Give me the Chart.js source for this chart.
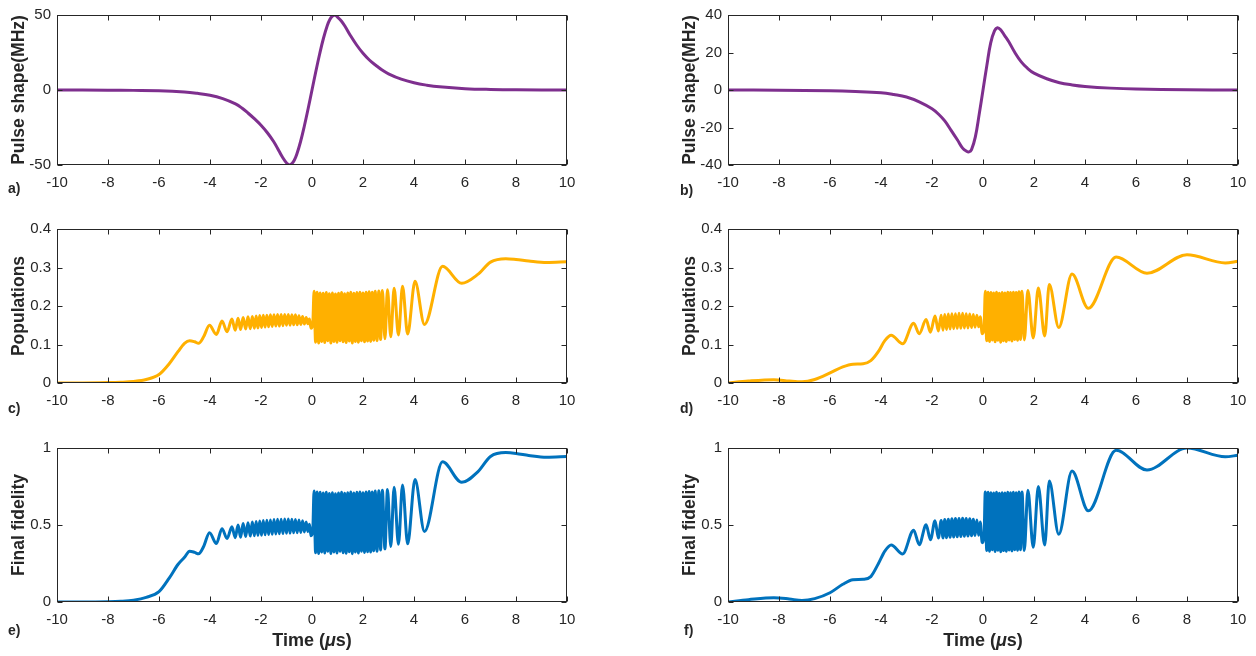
<!DOCTYPE html>
<html>
<head>
<meta charset="utf-8">
<script src="https://cdn.jsdelivr.net/npm/chart.js@4.4.1/dist/chart.umd.min.js"></script>
<style>
  html, body { margin: 0; padding: 0; background: #fff; }
  body { width: 1256px; height: 656px; position: relative; overflow: hidden;
         font-family: "Liberation Sans", Arial, Helvetica, sans-serif; }
  .panel { position: absolute; }
  .tag { position: absolute; font-weight: bold; font-size: 14px; color: #262626; line-height: 16px; }
  .xlabel { position: absolute; font-weight: bold; font-size: 18px; color: #262626;
            transform: translateX(-50%); white-space: nowrap; line-height: 20px; }
</style>
</head>
<body>
<div class="panel" style="left:0;top:0;width:640px;height:200px"><canvas id="chartA"></canvas></div>
<div class="panel" style="left:671px;top:0;width:585px;height:200px"><canvas id="chartB"></canvas></div>
<div class="panel" style="left:0;top:200px;width:640px;height:220px"><canvas id="chartC"></canvas></div>
<div class="panel" style="left:671px;top:200px;width:585px;height:220px"><canvas id="chartD"></canvas></div>
<div class="panel" style="left:0;top:420px;width:640px;height:236px"><canvas id="chartE"></canvas></div>
<div class="panel" style="left:671px;top:420px;width:585px;height:236px"><canvas id="chartF"></canvas></div>

<div class="tag" style="left:8px;top:180px">a)</div>
<div class="tag" style="left:680px;top:182px">b)</div>
<div class="tag" style="left:8px;top:400px">c)</div>
<div class="tag" style="left:680px;top:400px">d)</div>
<div class="tag" style="left:8px;top:622px">e)</div>
<div class="tag" style="left:684px;top:622px">f)</div>
<div class="xlabel" style="left:312px;top:630px">Time (<i>μ</i>s)</div>
<div class="xlabel" style="left:983px;top:630px">Time (<i>μ</i>s)</div>

<script>
// pulse shapes (MHz)
const tA = [-10, -8, -7, -6, -5, -4.5, -4, -3.5, -3, -2.75, -2.5, -2.25, -2, -1.75, -1.5, -1.3, -1.15, -1.0, -0.9, -0.8, -0.7, -0.6, -0.45, -0.3, -0.15,
            0, 0.15, 0.3, 0.45, 0.6, 0.7, 0.8, 0.9, 1.0, 1.15, 1.3, 1.5, 1.75, 2, 2.25, 2.5, 2.75, 3, 3.5, 4, 4.5, 5, 6, 7, 8, 10];
const pulseA = [0, -0.1, -0.25, -0.5, -1.3, -2.2, -3.5, -5.8, -9.3, -12, -15.5, -19.3, -23.5, -28.5, -34.5, -40.5, -45, -48.6, -50, -49.3, -47, -43, -34.5, -24, -12.3,
                0, 12.3, 24, 34.5, 43, 47, 49.3, 50, 48.6, 46, 42.3, 36.5, 30, 24.5, 20, 16.5, 13.3, 10.8, 7.2, 4.8, 3.2, 2.1, 0.9, 0.35, 0.1, 0];

const tB = [-10, -8, -6, -5, -4, -3.5, -3, -2.5, -2, -1.75, -1.5, -1.25, -1, -0.8, -0.65, -0.55, -0.45, -0.3, -0.15,
            0, 0.15, 0.3, 0.45, 0.57, 0.7, 0.85, 1, 1.25, 1.5, 1.75, 2, 2.5, 3, 3.5, 4, 5, 6, 8, 10];
const pulseB = [0, -0.1, -0.4, -0.8, -1.5, -2.4, -3.7, -6.3, -10, -12.8, -16.5, -21.5, -26.7, -31, -32.6, -33, -31.8, -25, -13,
                0, 13, 25, 31.5, 33.2, 32, 29, 26, 20, 15, 11.5, 9, 6, 3.9, 2.7, 1.9, 1.0, 0.5, 0.1, 0];

// left column, c) and e)
const tCE = [
  -10, -9, -8, -7.5, -7, -6.5, -6, -5.6, -5.25, -5, -4.8, -4.6, -4.45, -4.25, -4.02, -3.75, -3.53, -3.33, -3.14, -3.01,
  -2.9, -2.8, -2.7, -2.6, -2.51, -2.42, -2.34, -2.26, -2.19, -2.12,
  -2.05, -1.98, -1.91, -1.84, -1.77, -1.70, -1.63, -1.56, -1.49, -1.42,
  -1.35, -1.28, -1.21, -1.14, -1.07, -1.00, -0.93, -0.86, -0.79, -0.72,
  -0.65, -0.58, -0.51, -0.44, -0.37, -0.30, -0.23, -0.16, -0.10, -0.04, 0.03,
  0.08, 0.14, 0.20, 0.26, 0.32, 0.38, 0.44, 0.50, 0.56, 0.62,
  0.68, 0.74, 0.80, 0.86, 0.92, 0.98, 1.04, 1.10, 1.16, 1.22,
  1.28, 1.34, 1.40, 1.46, 1.52, 1.58, 1.64, 1.70, 1.76, 1.82,
  1.88, 1.94, 2.00, 2.06, 2.12, 2.18, 2.24, 2.30, 2.36, 2.42,
  2.48, 2.55, 2.62,
  2.69, 2.76, 2.86, 2.96, 3.09, 3.22, 3.39, 3.55, 3.75, 4.04,
  4.41, 5.12, 5.87, 6.5, 7.0, 7.6, 8.0, 8.5, 9.2, 10
];
const popC = [
  0, 0, 0.001, 0.002, 0.004, 0.009, 0.022, 0.05, 0.082, 0.103, 0.11, 0.107, 0.103, 0.12, 0.15, 0.126, 0.161, 0.133, 0.166, 0.137,
  0.168, 0.139, 0.170, 0.140, 0.172, 0.141, 0.173, 0.142, 0.174, 0.143,
  0.175, 0.144, 0.176, 0.145, 0.176, 0.146, 0.177, 0.147, 0.177, 0.148,
  0.178, 0.148, 0.178, 0.149, 0.178, 0.150, 0.178, 0.150, 0.177, 0.151,
  0.177, 0.151, 0.175, 0.152, 0.173, 0.153, 0.170, 0.154, 0.166, 0.142, 0.152,
  0.238, 0.106, 0.236, 0.104, 0.234, 0.108, 0.233, 0.105, 0.235, 0.110,
  0.232, 0.104, 0.234, 0.108, 0.231, 0.106, 0.233, 0.110, 0.235, 0.107,
  0.232, 0.105, 0.234, 0.109, 0.236, 0.104, 0.233, 0.108, 0.235, 0.106,
  0.236, 0.110, 0.234, 0.107, 0.236, 0.109, 0.237, 0.108, 0.236, 0.111,
  0.238, 0.110, 0.239,
  0.113, 0.240, 0.115, 0.242, 0.120, 0.246, 0.125, 0.251, 0.127, 0.264,
  0.152, 0.303, 0.259, 0.282, 0.314, 0.323, 0.321, 0.317, 0.313, 0.315
];
const fidE = [
  0, 0, 0.002, 0.005, 0.012, 0.03, 0.067, 0.155, 0.245, 0.29, 0.33, 0.322, 0.313, 0.36, 0.45, 0.38, 0.476, 0.412, 0.488, 0.418,
  0.50, 0.42, 0.51, 0.425, 0.515, 0.428, 0.52, 0.43, 0.523, 0.432,
  0.526, 0.434, 0.529, 0.436, 0.531, 0.438, 0.533, 0.44, 0.535, 0.441,
  0.537, 0.443, 0.538, 0.444, 0.539, 0.446, 0.539, 0.447, 0.538, 0.449,
  0.536, 0.45, 0.532, 0.452, 0.527, 0.455, 0.52, 0.458, 0.505, 0.43, 0.46,
  0.72, 0.32, 0.715, 0.315, 0.712, 0.325, 0.708, 0.318, 0.713, 0.33,
  0.705, 0.315, 0.71, 0.325, 0.703, 0.318, 0.708, 0.33, 0.712, 0.32,
  0.706, 0.316, 0.71, 0.327, 0.714, 0.314, 0.708, 0.324, 0.712, 0.318,
  0.714, 0.33, 0.71, 0.322, 0.715, 0.326, 0.717, 0.324, 0.715, 0.332,
  0.72, 0.33, 0.722,
  0.338, 0.725, 0.345, 0.73, 0.36, 0.745, 0.375, 0.76, 0.378, 0.795,
  0.458, 0.91, 0.777, 0.845, 0.945, 0.97, 0.965, 0.952, 0.94, 0.945
];

// right column, d) and f)
const tDF = [
  -10, -9.2, -8.2, -7.6, -7.1, -6.6, -6, -5.5, -5.1, -4.7, -4.4, -4.1, -3.85, -3.6, -3.15, -2.72, -2.5, -2.23, -2.06, -1.88, -1.75,
  -1.64, -1.57, -1.50, -1.43, -1.36, -1.29, -1.22, -1.15, -1.08, -1.01,
  -0.94, -0.87, -0.80, -0.73, -0.66, -0.59, -0.52, -0.45, -0.38, -0.31,
  -0.24, -0.17, -0.11, -0.03, 0.04,
  0.09, 0.145, 0.20, 0.255, 0.31, 0.365, 0.42, 0.475, 0.53, 0.585,
  0.64, 0.695, 0.75, 0.805, 0.86, 0.915, 0.97, 1.025, 1.08, 1.135,
  1.19, 1.245, 1.30, 1.355, 1.41, 1.47, 1.53,
  1.62, 1.76, 1.97, 2.17, 2.42, 2.6, 2.97, 3.49, 4.13, 5.22, 6.43, 8.0, 9.5, 10
];
const popD = [
  0, 0.005, 0.0085, 0.005, 0.003, 0.009, 0.026, 0.042, 0.049, 0.05, 0.058, 0.082, 0.11, 0.124, 0.102, 0.155, 0.128, 0.165, 0.132, 0.174, 0.135,
  0.176, 0.137, 0.178, 0.139, 0.179, 0.140, 0.180, 0.141, 0.180, 0.142,
  0.181, 0.142, 0.181, 0.143, 0.180, 0.143, 0.179, 0.144, 0.178, 0.145,
  0.176, 0.146, 0.172, 0.128, 0.140,
  0.238, 0.110, 0.236, 0.108, 0.235, 0.112, 0.234, 0.107, 0.236, 0.111,
  0.233, 0.106, 0.235, 0.110, 0.234, 0.108, 0.236, 0.112, 0.235, 0.109,
  0.236, 0.113, 0.235, 0.111, 0.237, 0.113, 0.238,
  0.112, 0.240, 0.117, 0.247, 0.122, 0.256, 0.144, 0.283, 0.194, 0.327, 0.285, 0.333, 0.312, 0.316
];
const fidF = [
  0, 0.015, 0.028, 0.02, 0.01, 0.022, 0.06, 0.115, 0.145, 0.148, 0.165, 0.25, 0.33, 0.37, 0.312, 0.466, 0.372, 0.502, 0.405, 0.528, 0.415,
  0.53, 0.416, 0.535, 0.418, 0.538, 0.42, 0.54, 0.422, 0.542, 0.424,
  0.543, 0.425, 0.544, 0.427, 0.543, 0.428, 0.541, 0.43, 0.538, 0.432,
  0.533, 0.434, 0.52, 0.385, 0.42,
  0.715, 0.335, 0.712, 0.33, 0.71, 0.34, 0.708, 0.328, 0.712, 0.336,
  0.706, 0.326, 0.71, 0.334, 0.708, 0.33, 0.712, 0.338, 0.71, 0.332,
  0.713, 0.34, 0.71, 0.336, 0.714, 0.34, 0.715,
  0.335, 0.725, 0.355, 0.75, 0.37, 0.785, 0.44, 0.85, 0.592, 0.985, 0.857, 1.0, 0.943, 0.953
];

const timeTicks = { min: -10, max: 10, step: 2 };

Chart.defaults.font.family = '"Liberation Sans", Arial, Helvetica, sans-serif';
Chart.defaults.font.size = 15;
Chart.defaults.color = '#262626';

function points(t, v) {
  return t.map((x, i) => ({ x: x, y: v[i] }));
}

// matlab style box with inward ticks on all four sides
const matlabBox = {
  id: 'matlabBox',
  afterDraw(chart) {
    const { ctx, chartArea: a } = chart;
    const xs = chart.scales.x, ys = chart.scales.y;
    const L = Math.round(a.left) + 0.5, R = Math.round(a.right) - 0.5;
    const T = Math.round(a.top) + 0.5, B = Math.round(a.bottom) - 0.5;
    ctx.save();
    ctx.strokeStyle = '#262626';
    ctx.lineWidth = 1;
    ctx.strokeRect(L, T, R - L, B - T);
    ctx.beginPath();
    xs.ticks.forEach(tk => {
      const px = Math.round(xs.getPixelForValue(tk.value)) + 0.5;
      ctx.moveTo(px, B); ctx.lineTo(px, B - 5);
      ctx.moveTo(px, T); ctx.lineTo(px, T + 5);
    });
    ys.ticks.forEach(tk => {
      const py = Math.round(ys.getPixelForValue(tk.value)) + 0.5;
      ctx.moveTo(L, py); ctx.lineTo(L + 5, py);
      ctx.moveTo(R, py); ctx.lineTo(R - 5, py);
    });
    ctx.stroke();
    ctx.restore();
  }
};

function makePanel(id, t, v, o) {
  const ds = {
    data: points(t, v),
    borderColor: o.color,
    borderWidth: 3,
    pointRadius: 0,
    fill: false
  };
  if (o.smooth) {
    ds.tension = 0.4;
  } else {
    ds.cubicInterpolationMode = 'monotone';
  }
  new Chart(document.getElementById(id), {
    type: 'line',
    data: { datasets: [ds] },
    options: {
      responsive: true,
      maintainAspectRatio: false,
      animation: false,
      layout: { padding: { top: o.padTop, right: o.padRight, left: 0, bottom: 0 } },
      plugins: { legend: { display: false }, tooltip: { enabled: false } },
      scales: {
        x: {
          type: 'linear',
          min: timeTicks.min, max: timeTicks.max,
          grid: { display: false, drawTicks: false },
          border: { display: false },
          ticks: { stepSize: timeTicks.step, padding: 9, maxRotation: 0, autoSkip: false },
          afterFit: s => { s.height = o.xAxisH; }
        },
        y: {
          min: o.yMin, max: o.yMax,
          grid: { display: false, drawTicks: false },
          border: { display: false },
          ticks: { stepSize: o.yStep, padding: 6, callback: val => String(+val.toFixed(3)) },
          title: { display: true, text: o.yTitle, font: { size: 17.5, weight: 'bold' }, padding: { top: 9, bottom: 0 } },
          afterFit: s => { s.width = 57; }
        }
      }
    },
    plugins: [matlabBox]
  });
}

const purple = '#7E2F8E', orange = '#FFB000', blue = '#0072BD';

makePanel('chartA', tA, pulseA, { color: purple, smooth: true, yMin: -50, yMax: 50, yStep: 50, yTitle: 'Pulse shape(MHz)', padTop: 11, padRight: 73, xAxisH: 35 });
makePanel('chartB', tB, pulseB, { color: purple, smooth: true, yMin: -40, yMax: 40, yStep: 20, yTitle: 'Pulse shape(MHz)', padTop: 11, padRight: 18, xAxisH: 35 });
makePanel('chartC', tCE, popC, { color: orange, yMin: 0, yMax: 0.4, yStep: 0.1, yTitle: 'Populations', padTop: 29, padRight: 73, xAxisH: 37 });
makePanel('chartD', tDF, popD, { color: orange, yMin: 0, yMax: 0.4, yStep: 0.1, yTitle: 'Populations', padTop: 29, padRight: 18, xAxisH: 37 });
makePanel('chartE', tCE, fidE, { color: blue, yMin: 0, yMax: 1, yStep: 0.5, yTitle: 'Final fidelity', padTop: 28, padRight: 73, xAxisH: 54 });
makePanel('chartF', tDF, fidF, { color: blue, yMin: 0, yMax: 1, yStep: 0.5, yTitle: 'Final fidelity', padTop: 28, padRight: 18, xAxisH: 54 });
</script>
</body>
</html>
